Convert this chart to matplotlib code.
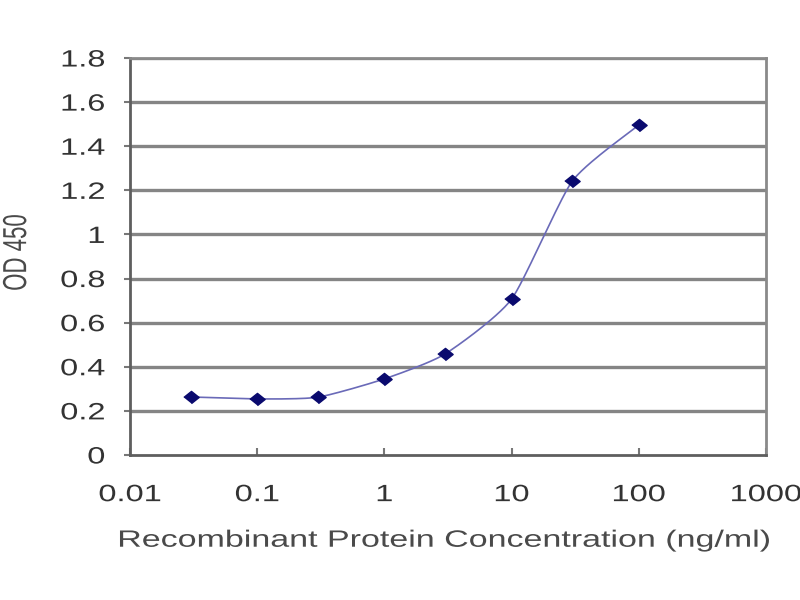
import numpy as np
import matplotlib.pyplot as plt
from matplotlib.patheffects import AbstractPathEffect
from matplotlib.transforms import Affine2D

conc = [0.03, 0.1, 0.3, 1, 3, 10, 30, 100]
od450 = [0.263, 0.254, 0.262, 0.345, 0.458, 0.707, 1.242, 1.496]
xticks = [0.01, 0.1, 1, 10, 100, 1000]
xtick_labels = ['0.01', '0.1', '1', '10', '100', '1000']
yticks = [0, 0.2, 0.4, 0.6, 0.8, 1, 1.2, 1.4, 1.6, 1.8]
ytick_labels = ['0', '0.2', '0.4', '0.6', '0.8', '1', '1.2', '1.4', '1.6', '1.8']

plt.rcParams['font.family'] = ['Liberation Sans', 'DejaVu Sans']


# the source image is stretched sideways, so the text is wider than normal
class WideText(AbstractPathEffect):
    def __init__(self, sx=1.38, anchor=0.5):
        super().__init__()
        self.sx = sx
        self.anchor = anchor

    def draw_path(self, renderer, gc, tpath, affine, rgbFace=None):
        ext = tpath.get_extents(affine)
        cx = ext.x0 + self.anchor * ext.width
        t = affine + Affine2D().translate(-cx, 0).scale(self.sx, 1).translate(cx, 0)
        renderer.draw_path(gc, tpath, t, rgbFace)


# mildly smoothed line (bezier with short tangents, in screen-like units)
def smooth(x, y, k=0.1, yscale=1.73, n=30):
    lx = np.log10(x)
    y = np.asarray(y, dtype=float) * yscale
    px = np.concatenate([[lx[0]], lx, [lx[-1]]])
    py = np.concatenate([[y[0]], y, [y[-1]]])
    xs, ys = [], []
    for i in range(1, len(px) - 2):
        t = np.linspace(0, 1, n)
        p0, p1, p2, p3 = [np.array([px[j], py[j]]) for j in range(i - 1, i + 3)]
        c1 = p1 + (p2 - p0) * k
        c2 = p2 - (p3 - p1) * k
        pts = ((1 - t) ** 3)[:, None] * p1 + (3 * (1 - t) ** 2 * t)[:, None] * c1 \
            + (3 * (1 - t) * t ** 2)[:, None] * c2 + (t ** 3)[:, None] * p2
        xs.extend(pts[:, 0])
        ys.extend(pts[:, 1])
    return 10 ** np.array(xs), np.array(ys) / yscale


fig = plt.figure(figsize=(8, 6), dpi=100)
ax = fig.add_axes([0.1625, 0.2417, 0.795, 0.6616])

for yv in yticks[1:]:
    ax.axhline(yv, color='#858585', lw=2.4, zorder=1)

sx, sy = smooth(conc, od450)
ax.plot(sx, sy, color='#6a6ab8', lw=1.2, zorder=2)
ax.plot(conc, od450, linestyle='none', marker=[(-1.25, 0), (0, 1), (1.25, 0), (0, -1)],
        ms=11, color='#0a0a6e', zorder=3)

ax.set_xscale('log')
ax.set_xlim(0.01, 1000)
ax.set_ylim(0, 1.8)
ax.set_xticks(xticks)
ax.set_xticklabels(xtick_labels)
ax.minorticks_off()
ax.set_yticks(yticks)
ax.set_yticklabels(ytick_labels)

for s in ax.spines.values():
    s.set_color('#8a8a8a')
    s.set_linewidth(2)
ax.spines['left'].set_color('#5e5e5e')
ax.spines['bottom'].set_color('#5e5e5e')

ax.tick_params(axis='x', direction='in', length=5, width=1.5, color='#777777',
               labelsize=17, labelcolor='#333333', pad=21)
ax.tick_params(axis='y', direction='out', length=4, width=1.5, color='#777777',
               labelsize=17, labelcolor='#333333', pad=14)

for lbl in ax.get_xticklabels():
    lbl.set_path_effects([WideText(anchor=0.5)])
for lbl in ax.get_yticklabels():
    lbl.set_path_effects([WideText(anchor=1.0)])

ax.set_xlabel('Recombinant Protein Concentration (ng/ml)', fontsize=17, color='#4a4a4a')
ax.xaxis.label.set_verticalalignment('center')
ax.xaxis.set_label_coords(0.495, -0.216)
ax.xaxis.label.set_path_effects([WideText(sx=1.44, anchor=0.5)])

ax.set_ylabel('OD 450', fontsize=16, color='#4a4a4a')
ax.yaxis.label.set_verticalalignment('center')
ax.yaxis.set_label_coords(-0.178, 0.51)
ax.yaxis.label.set_path_effects([WideText(sx=1.5, anchor=0.5)])

fig.savefig('out.png', dpi=100)
